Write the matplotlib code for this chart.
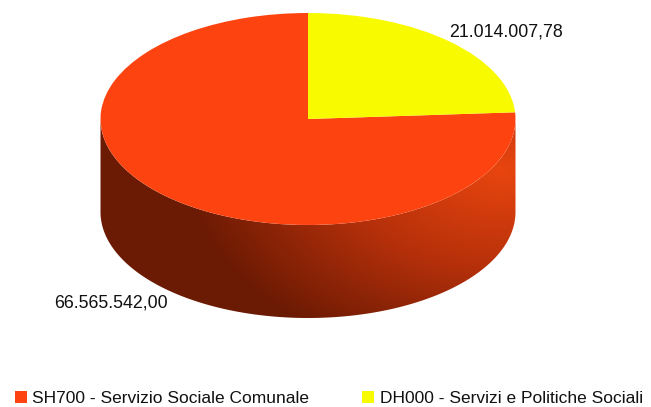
import numpy as np
import matplotlib
matplotlib.use("Agg")
import matplotlib.pyplot as plt
from matplotlib.colors import LinearSegmentedColormap
from matplotlib.patches import PathPatch
from matplotlib.path import Path

labels = ["SH700 - Servizio Sociale Comunale", "DH000 - Servizi e Politiche Sociali"]
values = [66565542.00, 21014007.78]
colors = ["#fd4410", "#f8fa00"]

W, H = 651, 407
cx, cy = 308, 119
rx, ry = 207.5, 106
depth = 93

plt.rcParams["font.family"] = ["Liberation Sans", "DejaVu Sans"]


def fmt_it(v):
    return f"{v:,.2f}".replace(",", "#").replace(".", ",").replace("#", ".")


fig = plt.figure(figsize=(W / 100, H / 100), dpi=100)
ax = fig.add_axes([0, 0, 1, 1])

wedges, _ = ax.pie(values, colors=colors, startangle=90, radius=1, labels=labels,
                   labeldistance=None, wedgeprops={"linewidth": 0, "zorder": 3})
ax.set_aspect("auto")
ax.axis("off")

# fianco del cilindro, sfumato
d = depth / ry
t = np.linspace(np.pi, 2 * np.pi, 200)
top = np.column_stack([np.cos(t), np.sin(t)])
bottom = np.column_stack([np.cos(t), np.sin(t) - d])
verts = np.vstack([bottom, top[::-1], bottom[:1]])
codes = [Path.MOVETO] + [Path.LINETO] * (len(verts) - 2) + [Path.CLOSEPOLY]
side = PathPatch(Path(verts, codes), facecolor="none", edgecolor="none")
ax.add_patch(side)

px, py = np.meshgrid(np.arange(W), np.arange(H))
dist = np.hypot(px - 500, (py - 170) * 1.6)
shade = np.clip(dist / 315, 0, 1)
cmap = LinearSegmentedColormap.from_list("side", ["#e8450f", "#b5300a", "#6b1a04"])
im = ax.imshow(shade, cmap=cmap, vmin=0, vmax=1, aspect="auto", zorder=2,
               extent=[-cx / rx, (W - cx) / rx, -(H - cy) / ry, cy / ry])
im.set_clip_path(side)
ax.set_xlim(-cx / rx, (W - cx) / rx)
ax.set_ylim(-(H - cy) / ry, cy / ry)

fig.text(506 / W, 1 - 32 / H, fmt_it(values[1]), fontsize=12.75, color="#111111",
         ha="center", va="center")
fig.text(111 / W, 1 - 303 / H, fmt_it(values[0]), fontsize=12.75, color="#111111",
         ha="center", va="center")

leg = fig.legend(wedges, labels, ncol=2, frameon=False, fontsize=12.5,
                 loc="lower left", bbox_to_anchor=(8 / W, -6 / H), borderaxespad=0,
                 handlelength=0.7, handleheight=0.7, handletextpad=0.3,
                 columnspacing=3.05, labelcolor="#111111")

fig.savefig("out.png", dpi=100)
